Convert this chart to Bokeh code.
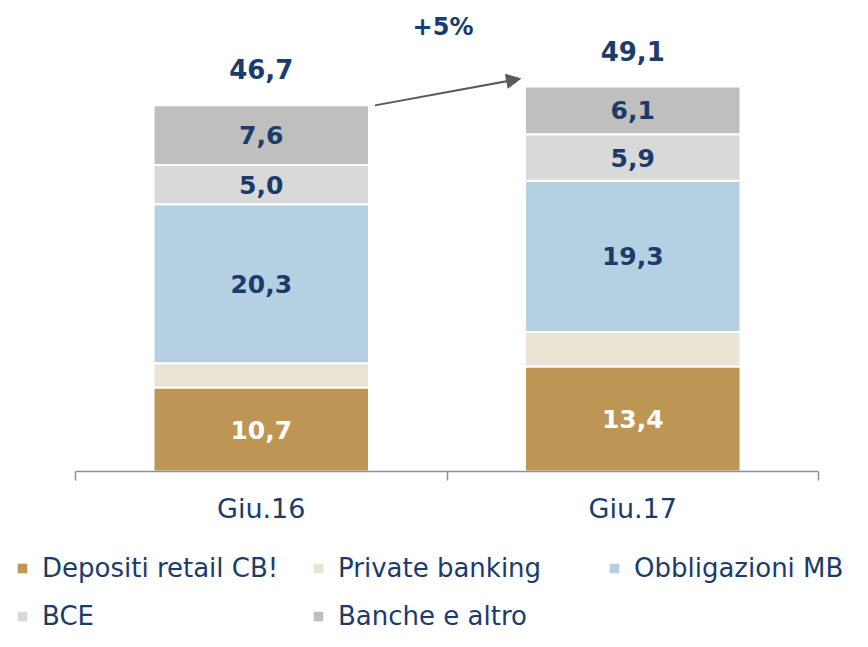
import numpy as np
from bokeh.plotting import figure
from bokeh.layouts import column
from bokeh.models import Range1d, FixedTicker, Legend, LegendItem, Arrow, NormalHead
from bokeh.core.properties import value
from bokeh.embed import file_html
from bokeh.resources import INLINE

# ---- data ----
categories = ["Giu.16", "Giu.17"]
series_names = ["Depositi retail CB!", "Private banking", "Obbligazioni MB", "BCE", "Banche e altro"]
depositi = [10.7, 13.4]
private_banking = [3.1, 4.4]
obbligazioni = [20.3, 19.3]
bce = [5.0, 5.9]
banche = [7.6, 6.1]
totals = [46.7, 49.1]
growth_label = "+5%"
show_label = [True, False, True, True, True]

colors = ["#BD9555", "#E8E3D3", "#B4D0E2", "#D9D9D9", "#BFBFBF"]
label_colors = ["#FFFFFF", "#1B3C6B", "#1B3C6B", "#1B3C6B", "#1B3C6B"]
NAVY = "#1B3C6B"
FONT = "DejaVu Sans"

series = [depositi, private_banking, obbligazioni, bce, banche]

p = figure(width=852, height=536, output_backend="svg", toolbar_location=None,
           x_range=Range1d(0, len(categories)), y_range=Range1d(0, 58.8),
           y_axis_location=None, min_border_left=75, min_border_right=34,
           min_border_top=10, min_border_bottom=65)
p.outline_line_color = None
p.xgrid.visible = False
p.ygrid.visible = False
p.frame_align = False

# legend strip (same stacked data, shown only through its legend)
p2 = figure(width=852, height=95, output_backend="svg", toolbar_location=None,
            x_range=Range1d(10, 11), y_range=Range1d(100, 101),
            x_axis_location=None, y_axis_location=None, min_border=0)
p2.outline_line_color = None
p2.xgrid.visible = False
p2.ygrid.visible = False
p2.frame_align = False

xs = np.arange(len(categories)) + 0.5
bar_w = 0.58

bottom = np.zeros(len(categories))
leg_r = []
for name, vals, col, lc, show in zip(series_names, series, colors, label_colors, show_label):
    vals = np.array(vals)
    top = bottom + vals
    p.vbar(x=xs, width=bar_w, bottom=bottom, top=top, fill_color=col,
           line_color="white", line_width=2)
    leg_r.append(p2.vbar(x=xs, width=bar_w, bottom=bottom, top=top, fill_color=col, line_color=None))
    if show:
        p.text(x=xs, y=bottom + vals / 2, text=[f"{v:.1f}".replace(".", ",") for v in vals],
               text_align="center", text_baseline="middle", text_color=lc,
               text_font=value(FONT), text_font_style="bold", text_font_size="25px")
    bottom = top

# totals
p.text(x=xs, y=totals, text=[f"{v:.1f}".replace(".", ",") for v in totals],
       y_offset=-36, text_align="center", text_baseline="middle", text_color=NAVY,
       text_font=value(FONT), text_font_style="bold", text_font_size="26px")

# growth arrow and label
p.add_layout(Arrow(x_start=xs[0] + bar_w / 2 + 0.016, y_start=totals[0],
                   x_end=xs[1] - bar_w / 2 - 0.012, y_end=totals[1] + 1.0,
                   line_color="#5A5A5A", line_width=2,
                   end=NormalHead(size=14, fill_color="#5A5A5A", line_color="#5A5A5A")))
p.text(x=[xs.mean()], y=[max(totals)], text=[growth_label], x_offset=-4, y_offset=-60,
       text_align="center", text_baseline="middle", text_color=NAVY,
       text_font=value(FONT), text_font_style="bold", text_font_size="24px")

# x axis
ax = p.xaxis[0]
ax.ticker = FixedTicker(ticks=list(xs), minor_ticks=list(range(len(categories) + 1)))
ax.major_label_overrides = {float(x): c for x, c in zip(xs, categories)}
ax.major_tick_line_color = None
ax.major_tick_out = 0
ax.major_tick_in = 0
ax.minor_tick_line_color = "#8A90A3"
ax.minor_tick_line_width = 1.5
ax.minor_tick_out = 9
ax.minor_tick_in = 0
ax.axis_line_color = "#8A90A3"
ax.axis_line_width = 1.5
ax.major_label_text_font = FONT
ax.major_label_text_font_size = "27px"
ax.major_label_text_color = NAVY
ax.major_label_standoff = 12

legend = Legend(items=[LegendItem(label=n, renderers=[r]) for n, r in zip(series_names, leg_r)],
                location=(16, 0), orientation="horizontal", ncols=3,
                label_text_font=FONT, label_text_font_size="26px", label_text_color=NAVY,
                glyph_width=12, glyph_height=12, label_standoff=14, label_width=252,
                label_height=30, spacing=18, padding=0, margin=0,
                border_line_color=None, background_fill_alpha=0)
p2.add_layout(legend)

layout = column(p, p2, spacing=0)
open("out.html", "w").write(file_html(layout, INLINE))
